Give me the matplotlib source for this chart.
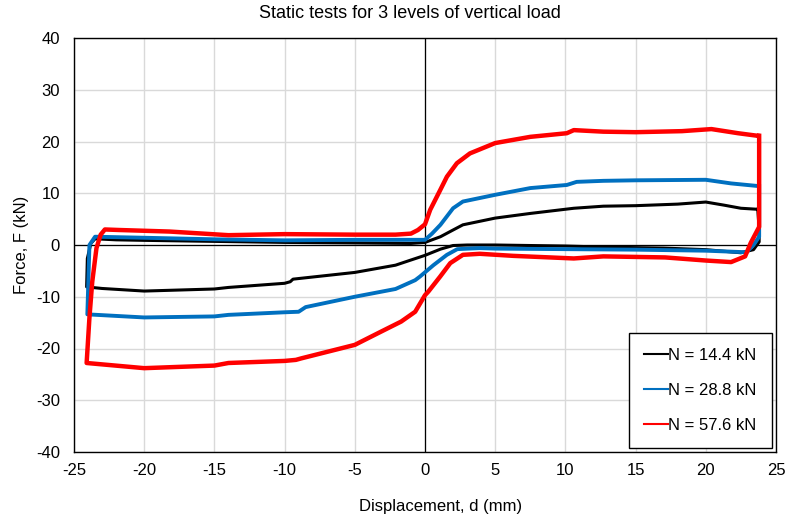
import matplotlib
matplotlib.use("Agg")
import matplotlib.pyplot as plt

# hysteresis loops, one loop per vertical load
# loop order: right edge down, lower branch to the left, left edge up, upper branch to the right
d_black = [23.7, 23.8, 23.8, 23.4, 22.5, 20, 17, 12.7, 10, 5, 3, 2, 1.1, 0,
           -1, -2.1, -5, -9.4, -9.6, -10, -14, -15, -20, -23, -24.1, -24.05,
           -23.8, -23.5, -22, -20, -15, -10, -5, -1, 0, 1.1, 2, 2.7, 5, 7.5,
           10.6, 12.7, 15, 18, 20, 21.3, 22.5, 23.7]
F_black = [6.9, 3, 0.6, -0.9, -1.5, -0.9, -0.6, -0.4, -0.2, 0, 0, -0.1, -0.8, -2.0,
           -2.9, -3.9, -5.3, -6.6, -7.1, -7.4, -8.2, -8.5, -8.9, -8.4, -8.1, -2.6,
           0.3, 1.2, 1.0, 0.9, 0.7, 0.5, 0.4, 0.3, 0.5, 1.6, 2.9, 3.9, 5.2, 6.1,
           7.1, 7.5, 7.6, 7.9, 8.3, 7.7, 7.1, 6.9]

d_blue = [23.8, 23.8, 23.4, 22.9, 20, 15, 10, 5, 3.9, 2.3, 1.56, 0.6, -0.36,
          -0.7, -2.1, -5, -8.5, -9, -10, -14, -15, -20, -24.05, -23.9, -23.5,
          -20, -15, -10, -5, -1, 0, 0.5, 1.1, 2, 2.7, 5, 7.5, 10.1, 10.8, 12.7,
          15, 20, 21.8, 23.7]
F_blue = [11.4, 1.6, 0, -1.4, -1.1, -0.9, -0.8, -0.7, -0.6, -0.8, -1.9, -3.9, -6.1,
          -6.8, -8.5, -10.0, -12.0, -12.9, -13.0, -13.5, -13.8, -14.0, -13.4, 0, 1.6,
          1.4, 1.1, 0.9, 1.0, 1.0, 1.0, 2.2, 3.9, 7.1, 8.4, 9.7, 11.0, 11.6, 12.2, 12.4,
          12.5, 12.6, 11.9, 11.4]

d_red = [23.8, 23.8, 23.2, 22.8, 21.8, 20, 17.1, 12.7, 10.6, 6.3, 3.9, 2.7, 1.8,
         1.08, 0.24, 0, -0.7, -1.7, -3.1, -5, -8.8, -9.2, -10, -14, -15, -20,
         -24.1, -23.9, -23.7, -23.4, -23.1, -22.8, -21.8, -18.2, -14, -10, -5,
         -2.1, -1.0, -0.5, 0, 0.37, 1.08, 1.56, 2.27, 3.2, 5, 7.5, 10.1, 10.6,
         12.7, 15, 18.3, 20.4, 22.3, 23.7]
F_red = [21.1, 3.5, 0.4, -2.2, -3.3, -3.0, -2.4, -2.2, -2.6, -2.1, -1.7, -1.9, -3.5,
         -6.1, -9.0, -9.7, -12.9, -14.8, -16.7, -19.3, -21.9, -22.2, -22.4, -22.8, -23.3, -23.8,
         -22.8, -14, -7.1, -0.6, 2.0, 3.0, 2.9, 2.6, 1.9, 2.1, 2.0,
         2.0, 2.2, 2.9, 4.0, 6.8, 10.6, 13.2, 15.8, 17.7, 19.7, 20.9, 21.6, 22.2,
         21.9, 21.8, 22.0, 22.4, 21.6, 21.1]

labels = ["N = 14.4 kN", "N = 28.8 kN", "N = 57.6 kN"]
colors = ["#000000", "#0070C0", "#FF0000"]

plt.rcParams['font.family'] = ['Liberation Sans', 'DejaVu Sans']
plt.rcParams['axes.unicode_minus'] = False

fig = plt.figure(figsize=(7.89, 5.19), dpi=100)
ax = fig.add_axes([74/789, 1 - 452/519, 702/789, 414/519])

series = [(d_black, F_black), (d_blue, F_blue), (d_red, F_red)]
widths = [2.2, 2.8, 3.2]
for (d, F), c, lab, w in zip(series, colors, labels, widths):
    ax.plot(d, F, color=c, lw=w, solid_joinstyle='round', label=lab, zorder=3)

ax.set_xlim(-25, 25)
ax.set_ylim(-40, 40)
ax.set_xticks(range(-25, 26, 5))
ax.set_yticks(range(-40, 41, 10))
ax.grid(True, color="#d9d9d9", lw=1, zorder=0)
ax.set_axisbelow(True)
ax.axhline(0, color="black", lw=0.9, zorder=2)
ax.axvline(0, color="black", lw=0.9, zorder=2)
for s in ax.spines.values():
    s.set_color("black")
    s.set_linewidth(1.0)
ax.tick_params(length=0, labelsize=12)
ax.tick_params(axis='x', pad=8)
ax.tick_params(axis='y', pad=10)

# title and x label sit a little left of the plot centre, as in the reference
fig.text(410/789, 1 - 14/519, "Static tests for 3 levels of vertical load",
         fontsize=13, ha='center', va='center')
fig.text(441/789, 1 - 507/519, "Displacement, d (mm)",
         fontsize=12, ha='center', va='center')
ax.set_ylabel("Force, F (kN)", fontsize=12, labelpad=5)

leg = ax.legend(loc="lower right", fontsize=12, frameon=True, fancybox=False,
                edgecolor="black", framealpha=1, handlelength=1.4,
                handletextpad=0.05, labelspacing=1.2, borderpad=0.9,
                borderaxespad=0.25)
leg.get_frame().set_linewidth(1.0)
for line in leg.get_lines():
    line.set_linewidth(1.5)

fig.savefig("out.png", dpi=100)
